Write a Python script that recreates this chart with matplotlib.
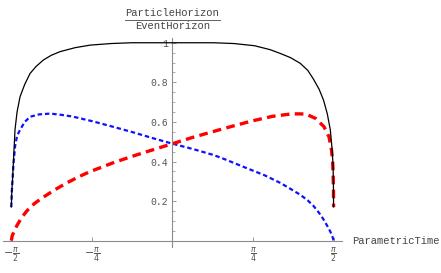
import numpy as np
import matplotlib.pyplot as plt
from matplotlib.lines import Line2D
from math import pi

# curves (parametric time, ratio)
t_black = [-1.571, -1.566, -1.560, -1.551, -1.535, -1.515, -1.486, -1.44, -1.388, -1.33,
           -1.258, -1.18, -1.096, -0.95, -0.803, -0.60, -0.40, 0.0, 0.40, 0.60,
           0.80, 0.953, 1.051, 1.15, 1.246, 1.32, 1.376, 1.43, 1.473, 1.51,
           1.539, 1.555, 1.565, 1.569, 1.571]
y_black = [0.17, 0.25, 0.30, 0.39, 0.56, 0.65, 0.727, 0.79, 0.845, 0.88,
           0.913, 0.937, 0.955, 0.975, 0.988, 0.996, 1.0, 1.0, 1.0, 0.996,
           0.985, 0.965, 0.946, 0.925, 0.896, 0.86, 0.815, 0.765, 0.71, 0.64,
           0.56, 0.47, 0.39, 0.30, 0.17]

t_blue = [-1.571, -1.567, -1.560, -1.551, -1.535, -1.515, -1.486, -1.44, -1.388, -1.30,
          -1.193, -1.10, -0.973, -0.777, -0.576, -0.387, -0.192, 0.0, 0.2, 0.4,
          0.517, 0.726, 0.9, 1.051, 1.15, 1.246, 1.32, 1.376, 1.43, 1.473,
          1.51, 1.539, 1.56, 1.571]
y_blue = [0.17, 0.24, 0.30, 0.38, 0.475, 0.53, 0.56, 0.60, 0.626, 0.638,
          0.642, 0.637, 0.627, 0.603, 0.575, 0.548, 0.518, 0.49, 0.463, 0.433,
          0.41, 0.366, 0.33, 0.292, 0.262, 0.232, 0.203, 0.175, 0.14, 0.107,
          0.074, 0.046, 0.02, 0.0]

t_red = [-1.571, -1.562, -1.545, -1.518, -1.47, -1.42, -1.38, -1.34, -1.258, -1.15,
         -1.03, -0.901, -0.803, -0.576, -0.40, -0.25, 0.0, 0.192, 0.387, 0.582,
         0.777, 0.973, 1.168, 1.298, 1.395, 1.477, 1.526, 1.551, 1.562, 1.567,
         1.570, 1.571]
y_red = [0.0, 0.025, 0.045, 0.075, 0.117, 0.15, 0.171, 0.19, 0.22, 0.256,
         0.292, 0.326, 0.349, 0.394, 0.425, 0.4495, 0.49, 0.521, 0.55, 0.578,
         0.605, 0.628, 0.641, 0.64, 0.618, 0.576, 0.525, 0.458, 0.40, 0.33,
         0.25, 0.17]

x_ticks = [-pi / 2, -pi / 4, pi / 4, pi / 2]
x_ticklabels = [r"$-\frac{\pi}{2}$", r"$-\frac{\pi}{4}$", r"$\frac{\pi}{4}$", r"$\frac{\pi}{2}$"]
y_ticks = [0.2, 0.4, 0.6, 0.8, 1.0]
y_ticklabels = ["0.2", "0.4", "0.6", "0.8", "1"]

W, H = 441, 273
fig = plt.figure(figsize=(W / 100, H / 100), dpi=100)
# axes box in pixels: x 3..342, y 38..247 (from top)
ax = fig.add_axes([3 / W, (H - 247) / H, 339 / W, 209 / H])
ax.set_xlim(-1.652, 1.653)
ax.set_ylim(-0.032, 1.024)

ax.plot(t_black, y_black, color="black", lw=0.9, zorder=3)
ax.plot(t_blue, y_blue, color="#1010ff", lw=1.6, dashes=(2.0, 1.3), zorder=2)
ax.plot(t_red, y_red, color="#ff0000", lw=2.4, dashes=(2.6, 1.6), zorder=2)

axis_col = "#8c8c8c"
for s in ["top", "right"]:
    ax.spines[s].set_visible(False)
for s in ["left", "bottom"]:
    ax.spines[s].set_position(("data", 0))
    ax.spines[s].set_color(axis_col)
    ax.spines[s].set_linewidth(0.8)

ax.set_xticks(x_ticks)
ax.set_xticklabels(x_ticklabels)
ax.set_yticks(y_ticks)
ax.set_yticklabels(y_ticklabels, family="Liberation Mono")
ax.set_yticks(np.arange(0.05, 1.01, 0.05), minor=True)
ax.tick_params(axis="both", which="major", length=3, width=0.6, color=axis_col,
               labelsize=7, labelcolor="#555555", direction="in")
ax.tick_params(axis="y", which="minor", length=1.8, width=0.5, color=axis_col, direction="in")
ax.tick_params(axis="x", pad=3)
ax.tick_params(axis="y", pad=3)
for lab in ax.get_xticklabels():
    lab.set_fontsize(8)
ax.patch.set_visible(False)

# axis labels
fig.text(352 / W, 1 - 241.5 / H, "ParametricTime", family="Liberation Mono", fontsize=7.6,
         color="#444444", ha="left", va="center")
fig.text(172.5 / W, 1 - 13 / H, "ParticleHorizon", family="Liberation Mono", fontsize=7.6,
         color="#444444", ha="center", va="center")
fig.text(172.5 / W, 1 - 26 / H, "EventHorizon", family="Liberation Mono", fontsize=7.6,
         color="#444444", ha="center", va="center")
fig.add_artist(Line2D([125 / W, 220 / W], [1 - 19.5 / H, 1 - 19.5 / H], color="#444444", lw=0.6))

fig.savefig("out.png", dpi=100)
